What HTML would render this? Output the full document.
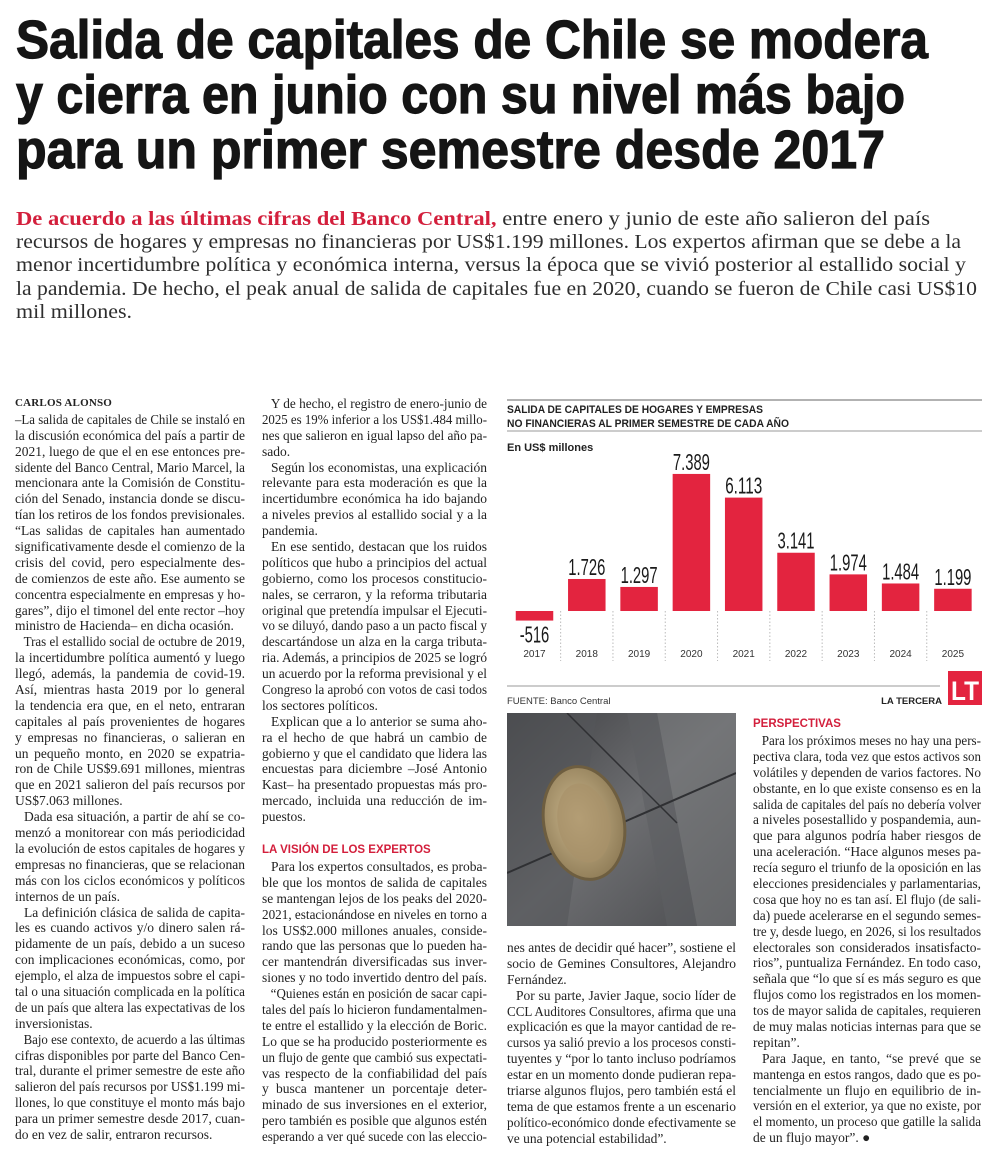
<!DOCTYPE html>
<html lang="es">
<head>
<meta charset="utf-8">
<style>
html,body{margin:0;padding:0;background:#fff;}
body{width:1000px;height:1158px;position:relative;overflow:hidden;color:#1e1e1e;}
.hl{position:absolute;left:16px;font-family:"Liberation Sans",sans-serif;font-weight:bold;font-size:54px;line-height:55px;height:55px;color:#151515;white-space:nowrap;-webkit-text-stroke:1.2px #151515;}
.hl span{display:inline-block;transform-origin:0 0;}
.sub{position:absolute;left:16px;font-family:"Liberation Serif",serif;font-size:20px;line-height:23.3px;height:23.3px;color:#2e2e2e;white-space:nowrap;}
.sub span{display:inline-block;transform-origin:0 0;}
.sub b{color:#d31f3c;}
.col{position:absolute;font-family:"Liberation Serif",serif;font-size:13.5px;color:#222;}
.l{height:15.9px;line-height:15.9px;white-space:nowrap;overflow:visible;}
.l span{display:inline-block;transform-origin:0 0;}
.l.p span{padding-left:9px;}
.by{font-weight:bold;font-size:11px;letter-spacing:0.2px;}
.hd{font-family:"Liberation Sans",sans-serif;font-weight:bold;font-size:11.5px;color:#d31f3c;height:15.9px;line-height:15.9px;}
</style>
</head>
<body>

<div class="hl" data-w="912" style="top:13px"><span>Salida de capitales de Chile se modera</span></div>
<div class="hl" data-w="889" style="top:68px"><span>y cierra en junio con su nivel más bajo</span></div>
<div class="hl" data-w="869" style="top:123px"><span>para un primer semestre desde 2017</span></div>

<div>
<div class="sub" data-w="914" style="top:208px"><span><b>De acuerdo a las últimas cifras del Banco Central,</b> entre enero y junio de este año salieron del país</span></div>
<div class="sub" data-w="945" style="top:231px"><span>recursos de hogares y empresas no financieras por US$1.199 millones. Los expertos afirman que se debe a la</span></div>
<div class="sub" data-w="950" style="top:254px"><span>menor incertidumbre política y económica interna, versus la época que se vivió posterior al estallido social y</span></div>
<div class="sub" data-w="961" style="top:278px"><span>la pandemia. De hecho, el peak anual de salida de capitales fue en 2020, cuando se fueron de Chile casi US$10</span></div>
<div class="sub" data-w="116" style="top:301px"><span>mil millones.</span></div>
</div>

<!-- Column 1 -->
<div class="col" style="left:15px;top:396px;width:230px">
<div class="l e by"><span>CARLOS ALONSO</span></div>
<div class="l"><span>–La salida de capitales de Chile se instaló en</span></div>
<div class="l"><span>la discusión económica del país a partir de</span></div>
<div class="l"><span>2021, luego de que el en ese entonces pre-</span></div>
<div class="l"><span>sidente del Banco Central, Mario Marcel, la</span></div>
<div class="l"><span>mencionara ante la Comisión de Constitu-</span></div>
<div class="l"><span>ción del Senado, instancia donde se discu-</span></div>
<div class="l"><span>tían los retiros de los fondos previsionales.</span></div>
<div class="l"><span>“Las salidas de capitales han aumentado</span></div>
<div class="l"><span>significativamente desde el comienzo de la</span></div>
<div class="l"><span>crisis del covid, pero especialmente des-</span></div>
<div class="l"><span>de comienzos de este año. Ese aumento se</span></div>
<div class="l"><span>concentra especialmente en empresas y ho-</span></div>
<div class="l"><span>gares”, dijo el timonel del ente rector –hoy</span></div>
<div class="l e"><span>ministro de Hacienda– en dicha ocasión.</span></div>
<div class="l p"><span>Tras el estallido social de octubre de 2019,</span></div>
<div class="l"><span>la incertidumbre política aumentó y luego</span></div>
<div class="l"><span>llegó, además, la pandemia de covid-19.</span></div>
<div class="l"><span>Así, mientras hasta 2019 por lo general</span></div>
<div class="l"><span>la tendencia era que, en el neto, entraran</span></div>
<div class="l"><span>capitales al país provenientes de hogares</span></div>
<div class="l"><span>y empresas no financieras, o salieran en</span></div>
<div class="l"><span>un pequeño monto, en 2020 se expatria-</span></div>
<div class="l"><span>ron de Chile US$9.691 millones, mientras</span></div>
<div class="l"><span>que en 2021 salieron del país recursos por</span></div>
<div class="l e"><span>US$7.063 millones.</span></div>
<div class="l p"><span>Dada esa situación, a partir de ahí se co-</span></div>
<div class="l"><span>menzó a monitorear con más periodicidad</span></div>
<div class="l"><span>la evolución de estos capitales de hogares y</span></div>
<div class="l"><span>empresas no financieras, que se relacionan</span></div>
<div class="l"><span>más con los ciclos económicos y políticos</span></div>
<div class="l e"><span>internos de un país.</span></div>
<div class="l p"><span>La definición clásica de salida de capita-</span></div>
<div class="l"><span>les es cuando activos y/o dinero salen rá-</span></div>
<div class="l"><span>pidamente de un país, debido a un suceso</span></div>
<div class="l"><span>con implicaciones económicas, como, por</span></div>
<div class="l"><span>ejemplo, el alza de impuestos sobre el capi-</span></div>
<div class="l"><span>tal o una situación complicada en la política</span></div>
<div class="l"><span>de un país que altera las expectativas de los</span></div>
<div class="l e"><span>inversionistas.</span></div>
<div class="l p"><span>Bajo ese contexto, de acuerdo a las últimas</span></div>
<div class="l"><span>cifras disponibles por parte del Banco Cen-</span></div>
<div class="l"><span>tral, durante el primer semestre de este año</span></div>
<div class="l"><span>salieron del país recursos por US$1.199 mi-</span></div>
<div class="l"><span>llones, lo que constituye el monto más bajo</span></div>
<div class="l"><span>para un primer semestre desde 2017, cuan-</span></div>
<div class="l e"><span>do en vez de salir, entraron recursos.</span></div>
</div>

<!-- Column 2 -->
<div class="col" style="left:262px;top:396px;width:225px">
<div class="l p"><span>Y de hecho, el registro de enero-junio de</span></div>
<div class="l"><span>2025 es 19% inferior a los US$1.484 millo-</span></div>
<div class="l"><span>nes que salieron en igual lapso del año pa-</span></div>
<div class="l e"><span>sado.</span></div>
<div class="l p"><span>Según los economistas, una explicación</span></div>
<div class="l"><span>relevante para esta moderación es que la</span></div>
<div class="l"><span>incertidumbre económica ha ido bajando</span></div>
<div class="l"><span>a niveles previos al estallido social y a la</span></div>
<div class="l e"><span>pandemia.</span></div>
<div class="l p"><span>En ese sentido, destacan que los ruidos</span></div>
<div class="l"><span>políticos que hubo a principios del actual</span></div>
<div class="l"><span>gobierno, como los procesos constitucio-</span></div>
<div class="l"><span>nales, se cerraron, y la reforma tributaria</span></div>
<div class="l"><span>original que pretendía impulsar el Ejecuti-</span></div>
<div class="l"><span>vo se diluyó, dando paso a un pacto fiscal y</span></div>
<div class="l"><span>descartándose un alza en la carga tributa-</span></div>
<div class="l"><span>ria. Además, a principios de 2025 se logró</span></div>
<div class="l"><span>un acuerdo por la reforma previsional y el</span></div>
<div class="l"><span>Congreso la aprobó con votos de casi todos</span></div>
<div class="l e"><span>los sectores políticos.</span></div>
<div class="l p"><span>Explican que a lo anterior se suma aho-</span></div>
<div class="l"><span>ra el hecho de que habrá un cambio de</span></div>
<div class="l"><span>gobierno y que el candidato que lidera las</span></div>
<div class="l"><span>encuestas para diciembre –José Antonio</span></div>
<div class="l"><span>Kast– ha presentado propuestas más pro-</span></div>
<div class="l"><span>mercado, incluida una reducción de im-</span></div>
<div class="l e"><span>puestos.</span></div>
<div style="height:18px"></div>
<div class="hd">LA VISIÓN DE LOS EXPERTOS</div>
<div class="l p"><span>Para los expertos consultados, es proba-</span></div>
<div class="l"><span>ble que los montos de salida de capitales</span></div>
<div class="l"><span>se mantengan lejos de los peaks del 2020-</span></div>
<div class="l"><span>2021, estacionándose en niveles en torno a</span></div>
<div class="l"><span>los US$2.000 millones anuales, conside-</span></div>
<div class="l"><span>rando que las personas que lo pueden ha-</span></div>
<div class="l"><span>cer mantendrán diversificadas sus inver-</span></div>
<div class="l e"><span>siones y no todo invertido dentro del país.</span></div>
<div class="l p"><span>“Quienes están en posición de sacar capi-</span></div>
<div class="l"><span>tales del país lo hicieron fundamentalmen-</span></div>
<div class="l"><span>te entre el estallido y la elección de Boric.</span></div>
<div class="l"><span>Lo que se ha producido posteriormente es</span></div>
<div class="l"><span>un flujo de gente que cambió sus expectati-</span></div>
<div class="l"><span>vas respecto de la confiabilidad del país</span></div>
<div class="l"><span>y busca mantener un porcentaje deter-</span></div>
<div class="l"><span>minado de sus inversiones en el exterior,</span></div>
<div class="l"><span>pero también es posible que algunos estén</span></div>
<div class="l"><span>esperando a ver qué sucede con las eleccio-</span></div>
</div>

<!-- Chart -->
<svg id="chart" style="position:absolute;left:500px;top:395px" width="500" height="318" viewBox="500 395 500 318">
  <line x1="507" y1="400" x2="982" y2="400" stroke="#999" stroke-width="1.5"/>
  <text x="507" y="413" font-family="Liberation Sans, sans-serif" font-weight="bold" font-size="11" fill="#222" textLength="256" lengthAdjust="spacingAndGlyphs">SALIDA DE CAPITALES DE HOGARES Y EMPRESAS</text>
  <text x="507" y="427" font-family="Liberation Sans, sans-serif" font-weight="bold" font-size="11" fill="#222" textLength="282" lengthAdjust="spacingAndGlyphs">NO FINANCIERAS AL PRIMER SEMESTRE DE CADA AÑO</text>
  <line x1="507" y1="431" x2="982" y2="431" stroke="#999" stroke-width="1"/>
  <text x="507" y="451" font-family="Liberation Sans, sans-serif" font-weight="bold" font-size="11" fill="#222">En US$ millones</text>
  <g id="seps"></g>
  <g id="bars"></g>
  <g id="vals"></g>
  <g id="years"></g>
  <line x1="507" y1="686" x2="940" y2="686" stroke="#999" stroke-width="1"/>
  <text x="507" y="704" font-family="Liberation Sans, sans-serif" font-size="9.5" fill="#333">FUENTE: Banco Central</text>
  <text x="942" y="704" text-anchor="end" font-family="Liberation Sans, sans-serif" font-weight="bold" font-size="9.5" fill="#222">LA TERCERA</text>
  <rect x="948" y="671" width="34" height="34" fill="#e3243f"/>
  <text x="965" y="700" text-anchor="middle" font-family="Liberation Sans, sans-serif" font-weight="bold" font-size="27" fill="#fff" textLength="28" lengthAdjust="spacingAndGlyphs">LT</text>
</svg>

<!-- Photo -->
<svg style="position:absolute;left:507px;top:713px" width="229" height="213" viewBox="0 0 229 213">
  <defs>
    <linearGradient id="stone" x1="0" y1="0" x2="1" y2="1">
      <stop offset="0" stop-color="#3e3f42"/>
      <stop offset="0.5" stop-color="#6d6e71"/>
      <stop offset="1" stop-color="#4a4b4e"/>
    </linearGradient>
    <radialGradient id="coin" cx="0.45" cy="0.45" r="0.6">
      <stop offset="0" stop-color="#cdb98f"/>
      <stop offset="1" stop-color="#8d7a55"/>
    </radialGradient>
  </defs>
  <rect width="229" height="213" fill="url(#stone)"/>
  <polygon points="0,0 90,0 60,213 0,213" fill="#55565a" opacity="0.6"/>
  <polygon points="150,0 229,0 229,213 190,213" fill="#7a7b7e" opacity="0.55"/>
  <polygon points="120,0 150,0 190,213 160,213" fill="#5e5f62" opacity="0.6"/>
  <line x1="0" y1="160" x2="229" y2="60" stroke="#2f3033" stroke-width="2"/>
  <line x1="60" y1="0" x2="170" y2="110" stroke="#2f3033" stroke-width="1.5"/>
  <ellipse cx="77" cy="110" rx="40" ry="57" transform="rotate(-12 77 110)" fill="url(#coin)" stroke="#6e5e40" stroke-width="3"/>
  <ellipse cx="77" cy="110" rx="26" ry="40" transform="rotate(-12 77 110)" fill="#a89269" opacity="0.7"/>
</svg>

<!-- Column 3 -->
<div class="col" style="left:507px;top:940px;width:229px">
<div class="l"><span>nes antes de decidir qué hacer”, sostiene el</span></div>
<div class="l"><span>socio de Gemines Consultores, Alejandro</span></div>
<div class="l e"><span>Fernández.</span></div>
<div class="l p"><span>Por su parte, Javier Jaque, socio líder de</span></div>
<div class="l"><span>CCL Auditores Consultores, afirma que una</span></div>
<div class="l"><span>explicación es que la mayor cantidad de re-</span></div>
<div class="l"><span>cursos ya salió previo a los procesos consti-</span></div>
<div class="l"><span>tuyentes y “por lo tanto incluso podríamos</span></div>
<div class="l"><span>estar en un momento donde pudieran repa-</span></div>
<div class="l"><span>triarse algunos flujos, pero también está el</span></div>
<div class="l"><span>tema de que estamos frente a un escenario</span></div>
<div class="l"><span>político-económico donde efectivamente se</span></div>
<div class="l e"><span>ve una potencial estabilidad”.</span></div>
</div>

<!-- Column 4 -->
<div class="col" style="left:753px;top:716px;width:228px">
<div class="hd" style="height:17px;line-height:17px">PERSPECTIVAS</div>
<div class="l p"><span>Para los próximos meses no hay una pers-</span></div>
<div class="l"><span>pectiva clara, toda vez que estos activos son</span></div>
<div class="l"><span>volátiles y dependen de varios factores. No</span></div>
<div class="l"><span>obstante, en lo que existe consenso es en la</span></div>
<div class="l"><span>salida de capitales del país no debería volver</span></div>
<div class="l"><span>a niveles posestallido y pospandemia, aun-</span></div>
<div class="l"><span>que para algunos podría haber riesgos de</span></div>
<div class="l"><span>una aceleración. “Hace algunos meses pa-</span></div>
<div class="l"><span>recía seguro el triunfo de la oposición en las</span></div>
<div class="l"><span>elecciones presidenciales y parlamentarias,</span></div>
<div class="l"><span>cosa que hoy no es tan así. El flujo (de sali-</span></div>
<div class="l"><span>da) puede acelerarse en el segundo semes-</span></div>
<div class="l"><span>tre y, desde luego, en 2026, si los resultados</span></div>
<div class="l"><span>electorales son considerados insatisfacto-</span></div>
<div class="l"><span>rios”, puntualiza Fernández. En todo caso,</span></div>
<div class="l"><span>señala que “lo que sí es más seguro es que</span></div>
<div class="l"><span>flujos como los registrados en los momen-</span></div>
<div class="l"><span>tos de mayor salida de capitales, requieren</span></div>
<div class="l"><span>de muy malas noticias internas para que se</span></div>
<div class="l e"><span>repitan”.</span></div>
<div class="l p"><span>Para Jaque, en tanto, “se prevé que se</span></div>
<div class="l"><span>mantenga en estos rangos, dado que es po-</span></div>
<div class="l"><span>tencialmente un flujo en equilibrio de in-</span></div>
<div class="l"><span>versión en el exterior, ya que no existe, por</span></div>
<div class="l"><span>el momento, un proceso que gatille la salida</span></div>
<div class="l e"><span>de un flujo mayor”. ●</span></div>
</div>

<script>
var years = ["2017","2018","2019","2020","2021","2022","2023","2024","2025"];
var values = [-516, 1726, 1297, 7389, 6113, 3141, 1974, 1484, 1199];
var valueLabels = ["-516","1.726","1.297","7.389","6.113","3.141","1.974","1.484","1.199"];

var NS = "http://www.w3.org/2000/svg";
var baseY = 611, pxPerUnit = 0.01855, x0 = 534.5, step = 52.3, barW = 37.5;
function yScale(v){ return baseY - v * pxPerUnit; }
function xCenter(i){ return x0 + i * step; }

var gBars = document.getElementById("bars");
var gVals = document.getElementById("vals");
var gYears = document.getElementById("years");
var gSeps = document.getElementById("seps");

for (var i = 0; i < years.length; i++) {
  var v = values[i];
  var yTop = Math.min(yScale(v), yScale(0));
  var h = Math.abs(yScale(v) - yScale(0));
  var r = document.createElementNS(NS, "rect");
  r.setAttribute("x", xCenter(i) - barW / 2);
  r.setAttribute("y", yTop);
  r.setAttribute("width", barW);
  r.setAttribute("height", h);
  r.setAttribute("fill", "#e3243f");
  
  
  gBars.appendChild(r);

  var t = document.createElementNS(NS, "text");
  t.setAttribute("x", xCenter(i));
  t.setAttribute("y", v >= 0 ? yScale(v) - 4 : yScale(v) + 22);
  t.setAttribute("text-anchor", "middle");
  t.setAttribute("font-family", "Liberation Sans, sans-serif");
  t.setAttribute("font-size", "23");
  t.setAttribute("fill", "#1a1a1a");
  t.setAttribute("textLength", valueLabels[i].length * 7.4);
  t.setAttribute("lengthAdjust", "spacingAndGlyphs");
  t.textContent = valueLabels[i];
  
  
  gVals.appendChild(t);

  var yl = document.createElementNS(NS, "text");
  yl.setAttribute("x", xCenter(i));
  yl.setAttribute("y", 657);
  yl.setAttribute("text-anchor", "middle");
  yl.setAttribute("font-family", "Liberation Sans, sans-serif");
  yl.setAttribute("font-size", "10");
  yl.setAttribute("fill", "#333");
  yl.textContent = years[i];
  
  
  gYears.appendChild(yl);

  if (i > 0) {
    var s = document.createElementNS(NS, "line");
    var sx = xCenter(i) - step / 2;
    s.setAttribute("x1", sx); s.setAttribute("x2", sx);
    s.setAttribute("y1", baseY); s.setAttribute("y2", 661);
    s.setAttribute("stroke", "#bbb");
    s.setAttribute("stroke-width", "1");
    s.setAttribute("stroke-dasharray", "1.5 2");
    
    
    gSeps.appendChild(s);
  }
}

// fit text lines
document.querySelectorAll(".hl,.sub").forEach(function(el){
  var sp = el.firstElementChild;
  var W = parseFloat(el.getAttribute("data-w"));
  var w = sp.getBoundingClientRect().width;
  if (w > 0) sp.style.transform = "scaleX(" + (W / w) + ")";
});
document.querySelectorAll(".l").forEach(function(el){
  var sp = el.firstElementChild;
  var W = el.clientWidth;
  var w = sp.getBoundingClientRect().width;
  if (w > W) {
    sp.style.transform = "scaleX(" + (W / w) + ")";
  } else if (!el.classList.contains("e")) {
    var n = (sp.textContent.match(/ /g) || []).length;
    if (n > 0) sp.style.wordSpacing = ((W - w) / n) + "px";
  }
});
</script>
</body>
</html>
